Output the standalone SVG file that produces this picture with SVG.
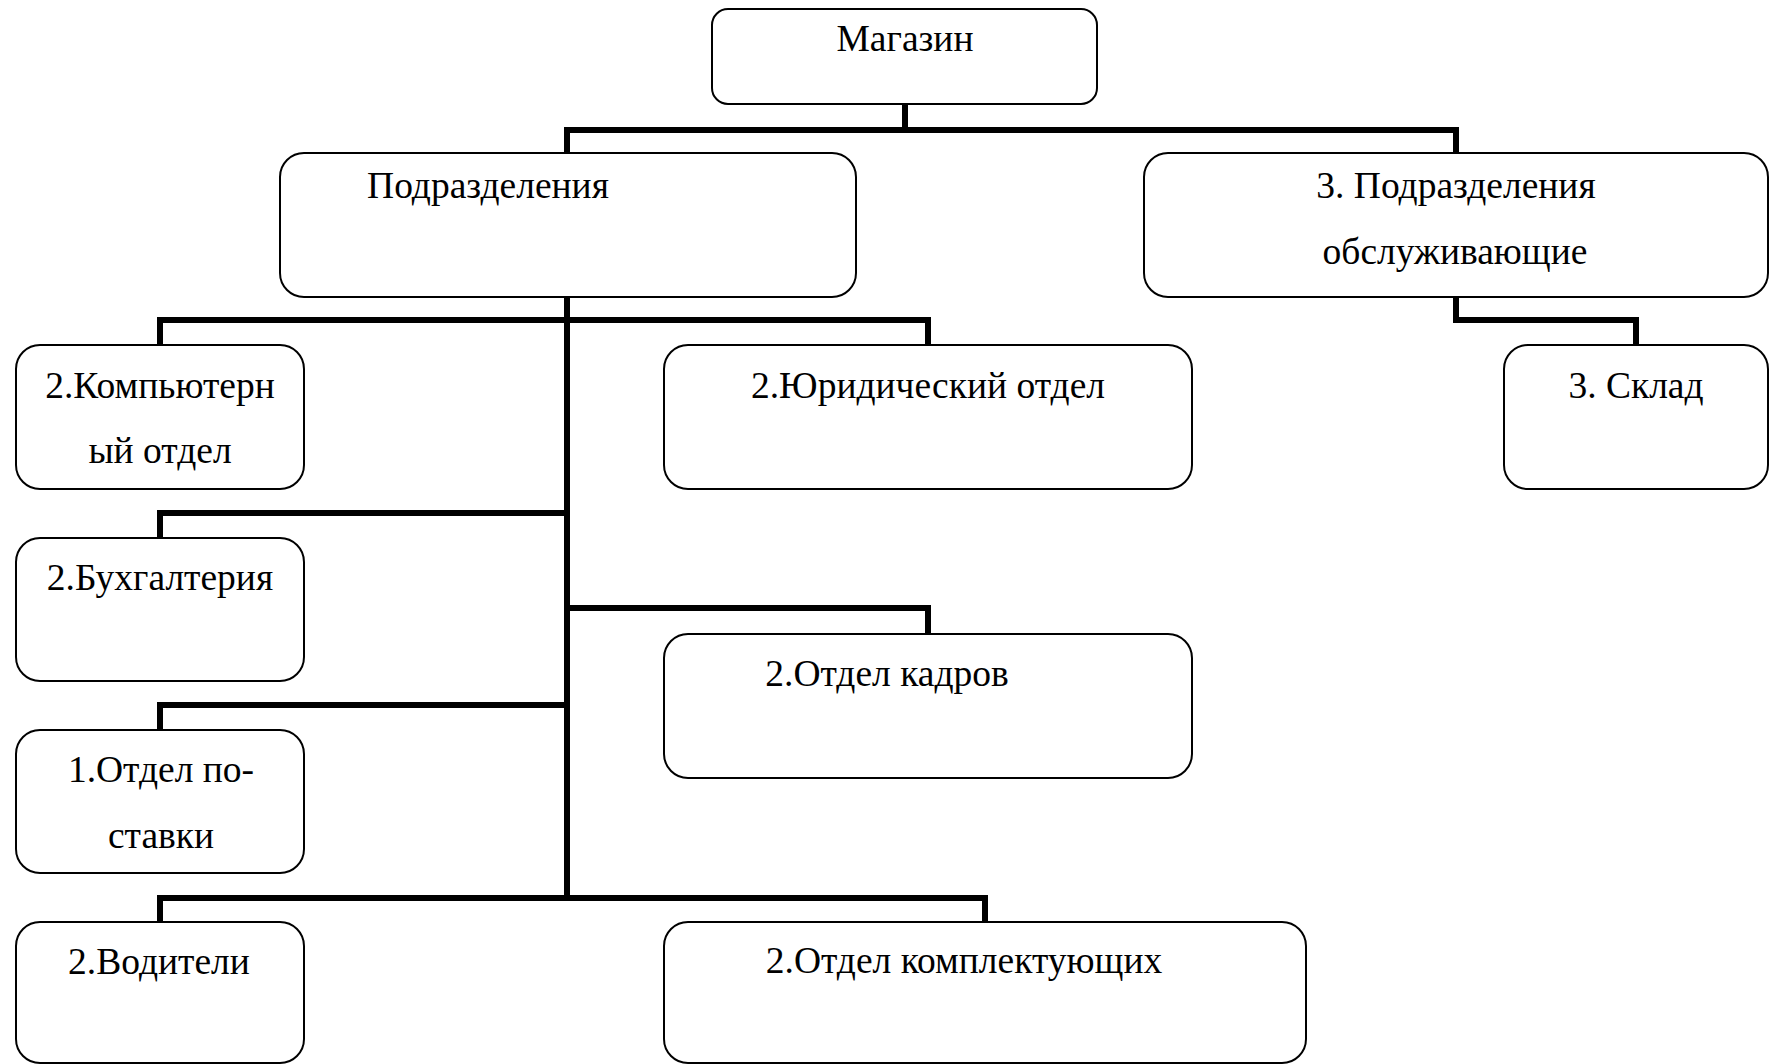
<svg xmlns="http://www.w3.org/2000/svg" width="1775" height="1064" viewBox="0 0 1775 1064">
<style>
.box{fill:#fff;stroke:#000;stroke-width:2}
.con{fill:none;stroke:#000;stroke-width:6;stroke-linejoin:miter;stroke-linecap:square}
text{font-family:"Liberation Serif","Times New Roman",serif;font-size:37.5px;fill:#000;text-anchor:middle}
</style>
<rect width="1775" height="1064" fill="#fff"/>
<g id="connectors">
<path class="con" d="M905,104 V130"/>
<path class="con" d="M567,153 V130 H1456 V153"/>
<path class="con" d="M567,297 V898"/>
<path class="con" d="M160,345 V320 H928 V345"/>
<path class="con" d="M1456,297 V320 H1636 V345"/>
<path class="con" d="M160,538 V513 H567"/>
<path class="con" d="M567,608 H928 V634"/>
<path class="con" d="M160,730 V705 H567"/>
<path class="con" d="M160,922 V898 H985 V922"/>
</g>
<g id="magazin"><rect class="box" x="712" y="9" width="385" height="95" rx="16"/><text x="905" y="51">Магазин</text></g>
<g id="podrazdeleniya"><rect class="box" x="280" y="153" width="576" height="144" rx="24"/><text x="488" y="198">Подразделения</text></g>
<g id="podrazdeleniya3"><rect class="box" x="1144" y="153" width="624" height="144" rx="24"/><text x="1456" y="198">3. Подразделения</text><text x="1455" y="264">обслуживающие</text></g>
<g id="sklad"><rect class="box" x="1504" y="345" width="264" height="144" rx="24"/><text x="1636" y="398">3. Склад</text></g>
<g id="komp"><rect class="box" x="16" y="345" width="288" height="144" rx="24"/><text x="160" y="398">2.Компьютерн</text><text x="160" y="463">ый отдел</text></g>
<g id="yur"><rect class="box" x="664" y="345" width="528" height="144" rx="24"/><text x="928" y="398">2.Юридический отдел</text></g>
<g id="buh"><rect class="box" x="16" y="538" width="288" height="143" rx="24"/><text x="160" y="590">2.Бухгалтерия</text></g>
<g id="kadry"><rect class="box" x="664" y="634" width="528" height="144" rx="24"/><text x="887" y="686">2.Отдел кадров</text></g>
<g id="postavki"><rect class="box" x="16" y="730" width="288" height="143" rx="24"/><text x="161" y="782">1.Отдел по-</text><text x="161" y="848">ставки</text></g>
<g id="voditeli"><rect class="box" x="16" y="922" width="288" height="141" rx="24"/><text x="159" y="974">2.Водители</text></g>
<g id="komplekt"><rect class="box" x="664" y="922" width="642" height="141" rx="24"/><text x="964" y="973">2.Отдел комплектующих</text></g>
</svg>
